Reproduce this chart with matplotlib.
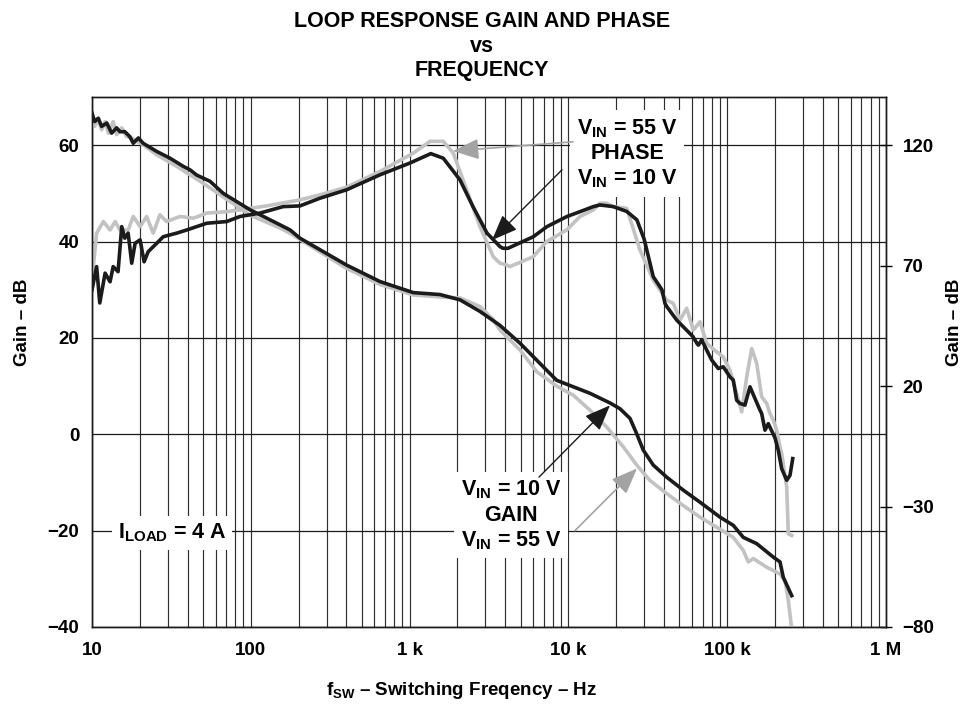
import matplotlib
matplotlib.use('Agg')
import matplotlib.pyplot as plt
from matplotlib.ticker import LogLocator, NullFormatter

plt.rcParams['font.family'] = ['Liberation Sans', 'DejaVu Sans']
plt.rcParams['font.weight'] = 'bold'
plt.rcParams['mathtext.fontset'] = 'custom'
plt.rcParams['mathtext.rm'] = 'Liberation Sans:bold'
plt.rcParams['mathtext.it'] = 'Liberation Sans:bold'
plt.rcParams['mathtext.bf'] = 'Liberation Sans:bold'

# gain, VIN = 10 V (left axis, dB)
gain10_f = [10, 10.4, 10.96, 11.5, 12.4, 13.3, 14.3, 15.0, 16.1, 17.3, 18.2, 19.6, 21.0,
            25.6, 31.0, 37.6, 41.4, 45.6, 55.4, 67.1, 98.8, 146, 177, 204, 402, 651,
            1055, 1554, 2077, 2775, 3709, 4957, 6950, 8440, 13680, 18280, 21130, 24430,
            26930, 29630, 34240, 41590, 52920, 67410, 90100, 109200, 126300, 153400,
            195200, 215100, 225600, 254900]
gain10 = [66.7, 64.9, 65.6, 63.9, 64.6, 62.5, 63.6, 62.8, 62.8, 61.8, 60.4, 61.5, 60.4,
          58.7, 57.3, 55.6, 54.9, 53.8, 52.5, 50.0, 46.6, 43.8, 42.4, 40.7, 35.1, 31.7,
          29.4, 29.0, 27.9, 25.5, 22.6, 18.9, 14.0, 11.2, 8.5, 6.5, 5.3, 3.3,
          0.1, -3.3, -6.4, -8.9, -11.6, -14.1, -17.2, -18.9, -21.4, -22.7,
          -25.5, -26.5, -29.7, -33.5]

# gain, VIN = 55 V
gain55_f = [10, 10.4, 10.96, 11.5, 12.1, 12.7, 13.6, 14.3, 15.4, 16.5, 17.8, 19.1, 21.0,
            25.6, 34.2, 50.2, 98.8, 153, 177, 402, 651, 1055, 1554, 2077, 2775, 3366,
            3709, 4957, 6314, 8440, 10740, 13680, 17430, 22170, 26930, 32650, 41590,
            52920, 67410, 85900, 109200, 126300, 135800, 146000, 177400, 215100,
            231200, 242600, 254900]
gain55 = [64.6, 63.9, 65.3, 63.2, 64.9, 62.5, 64.9, 62.2, 63.6, 61.8, 61.5, 60.8, 60.1,
          58.0, 55.6, 52.1, 45.5, 42.8, 41.7, 34.4, 31.1, 28.9, 28.5, 28.3, 26.5, 23.8,
          21.6, 17.5, 13.0, 10.0, 8.1, 5.0, 1.5, -2.6, -6.4, -9.6, -12.3,
          -14.8, -17.2, -19.3, -21.4, -24.1, -26.5, -25.8, -27.6, -29.0,
          -30.4, -34.5, -40.4]

# phase, VIN = 10 V (right axis)
phase10_f = [10, 10.7, 11.2, 12.1, 13.0, 13.6, 14.6, 15.4, 16.1, 16.9, 17.8, 18.7, 20.1,
             21.3, 22.6, 25.6, 28.1, 34.2, 39.5, 52.8, 70.5, 85.5, 114, 160, 204, 273,
             402, 651, 1006, 1360, 1630, 2077, 2507, 3073, 3709, 3874, 4166, 6012,
             7333, 9800, 11830, 14350, 15810, 19180, 23300, 27000, 30000, 34240,
             37750, 38860, 40580, 41770, 48100, 50450, 60920, 64540, 65770, 69100,
             79880, 87900, 94500, 104100, 109200, 114800, 120400, 129400, 132700,
             139200, 149700, 160900, 164900, 173000, 181500, 200000, 209800, 220400,
             237000, 248700, 258600]
phase10 = [59.9, 69.6, 54.5, 66.9, 63.3, 69.6, 67.5, 86.2, 81.4, 83.5, 71.0, 79.3, 80.7,
           71.6, 75.8, 79.3, 82.0, 83.5, 84.8, 87.6, 88.3, 90.4, 91.8, 94.5, 94.8, 98.0,
           101.5, 107.7, 112.6, 116.5, 114.6, 105.6, 94.5, 83.5, 77.9, 77.2, 77.2, 82.0,
           86.2, 90.4, 92.4, 94.5, 95.2, 94.5, 92.5, 89.0, 81.0, 65.4,
           61.2, 59.9, 54.3, 52.9, 47.4, 46.0, 40.5, 37.7, 37.0, 39.1,
           30.8, 27.3, 28.0, 23.8, 22.5, 14.1, 12.8, 12.1, 14.8,
           19.7, 14.8, 10.0, 8.6, 1.7, 4.4, -1.5, -6.7, -14.3,
           -19.1, -17.0, -10.1]

# phase, VIN = 55 V
phase55_f = [10, 10.7, 11.8, 13.0, 14.0, 15.0, 16.9, 18.2, 20.1, 22.1, 24.3, 26.8, 29.5,
             35.8, 43.5, 52.8, 70.5, 98.8, 126, 204, 273, 402, 651, 1055, 1345, 1630,
             1885, 2289, 2775, 3366, 3709, 4088, 4288, 6012, 7302, 9756, 11830, 14350,
             15810, 17430, 19180, 23290, 28240, 34240, 41590, 45770, 50450, 55590,
             61190, 67410, 74300, 85900, 94500, 104100, 114800, 123400, 132700,
             142700, 153400, 164900, 177400, 186000, 195200, 205000, 215100, 220400,
             237000, 242600, 254900]
phase55 = [64.0, 83.5, 88.3, 84.8, 88.3, 84.8, 84.8, 90.4, 86.2, 90.4, 83.5, 91.1, 88.3,
           90.4, 89.7, 91.8, 92.4, 93.8, 94.8, 97.3, 99.4, 102.6, 109.1, 116.7, 121.6, 121.6,
           116.7, 101.5, 86.2, 73.7, 71.0, 70.3, 69.6, 73.7, 80.0, 84.8, 90.4, 93.1,
           95.9, 95.9, 94.5, 93.8, 76.5, 64.0, 55.7, 54.3, 47.4, 52.3,
           43.2, 46.7, 37.7, 34.2, 32.1, 26.6, 16.9, 9.3, 23.8,
           35.6, 29.4, 15.5, 12.8, 8.6, 5.8, 1.7, -5.3, -8.0,
           -21.9, -41.3, -42.0]

x_ticks = [10, 100, 1e3, 1e4, 1e5, 1e6]
x_labels = ['10', '100', '1 k', '10 k', '100 k', '1 M']
left_ticks = [-40, -20, 0, 20, 40, 60]
left_labels = ['\u221240', '\u221220', '0', '20', '40', '60']
right_ticks = [-80, -30, 20, 70, 120]
right_labels = ['\u221280', '\u221230', '20', '70', '120']

black = '#1b1b1b'
gray = '#c2c2c2'
arrow_gray = '#a3a3a3'
s = 13.5
ts = 15.5

fig = plt.figure(figsize=(9.7, 7.04), dpi=100)
ax1 = fig.add_axes([0.0948, 0.1094, 0.8186, 0.7528])
ax2 = ax1.twinx()

ax1.set_xscale('log')
ax1.set_xlim(10, 1e6)
ax1.set_ylim(-40, 70)
ax2.set_ylim(-80, 140)

# gray (VIN = 55 V) curves sit under the black ones
ax1.plot(gain55_f, gain55, color=gray, lw=2.6, solid_joinstyle='round', zorder=3)
ax1.plot(phase55_f, phase55, color=gray, lw=2.6, solid_joinstyle='round',
         transform=ax2.transData, zorder=3)
ax2.plot(gain10_f, gain10, color=black, lw=2.6, solid_joinstyle='round',
         transform=ax1.transData, zorder=3)
ax2.plot(phase10_f, phase10, color=black, lw=2.6, solid_joinstyle='round', zorder=3)
ax2.set_ylim(-80, 140)

ax1.set_xticks(x_ticks)
ax1.set_xticklabels(x_labels)
ax1.xaxis.set_minor_locator(LogLocator(base=10, subs=range(2, 10), numticks=50))
ax1.xaxis.set_minor_formatter(NullFormatter())
ax1.set_yticks(left_ticks)
ax1.set_yticklabels(left_labels)
ax2.set_yticks(right_ticks)
ax2.set_yticklabels(right_labels)

ax1.tick_params(axis='x', which='both', length=0, pad=11, labelsize=s)
ax1.tick_params(axis='y', length=0, pad=9, labelsize=s)
ax2.tick_params(axis='y', direction='inout', length=8, width=1, pad=8, labelsize=s)

ax1.grid(True, which='both', axis='x', color='#2e2e2e', lw=0.85)
ax1.grid(True, which='major', axis='y', color='#1b1b1b', lw=0.9)
for a in (ax1, ax2):
    for sp in a.spines.values():
        sp.set_color('#1b1b1b')
        sp.set_linewidth(1.0)

ax1.set_ylabel('Gain \u2013 dB', fontsize=s, fontweight='bold')
ax1.yaxis.set_label_coords(-0.077, 0.575)
ax2.set_ylabel('Gain \u2013 dB', fontsize=s, fontweight='bold')
ax2.yaxis.set_label_coords(1.076, 0.575)
ax1.set_xlabel('f$_{\\rm SW}$ \u2013 Switching Freqency \u2013 Hz', fontsize=s,
               fontweight='bold')
ax1.xaxis.set_label_coords(0.466, -0.1)

fig.text(0.497, 0.984, 'LOOP RESPONSE GAIN AND PHASE\nvs\nFREQUENCY', ha='center',
         va='top', fontsize=ts, fontweight='bold', linespacing=1.22)

box = dict(facecolor='white', edgecolor='none', pad=5)
ax2.text(23400, 116.6, 'V$_{\\rm IN}$ = 55 V\nPHASE\nV$_{\\rm IN}$ = 10 V', ha='center',
         va='center', fontsize=ts, fontweight='bold', linespacing=1.2, bbox=box,
         zorder=5)
ax2.text(4350, -33.6, 'V$_{\\rm IN}$ = 10 V\nGAIN\nV$_{\\rm IN}$ = 55 V', ha='center',
         va='center', fontsize=ts, fontweight='bold', linespacing=1.2, bbox=box,
         zorder=5)
ax2.text(32, -41.0, 'I$_{\\rm LOAD}$ = 4 A', ha='center', va='center', fontsize=ts,
         fontweight='bold', bbox=dict(facecolor='white', edgecolor='none', pad=4),
         zorder=5)

head = '-|>,head_length=0.8,head_width=0.32'
ax2.annotate('', xy=(1875, 117.6), xytext=(10700, 121.4),
             arrowprops=dict(arrowstyle=head, mutation_scale=20, color=arrow_gray, lw=1.2,
                             shrinkA=0, shrinkB=0), zorder=6)
ax2.annotate('', xy=(3304, 80.6), xytext=(9120, 109.8),
             arrowprops=dict(arrowstyle=head, mutation_scale=20, color=black, lw=1.0,
                             shrinkA=0, shrinkB=0), zorder=6)
ax2.annotate('', xy=(18280, 12.0), xytext=(6530, -17.8),
             arrowprops=dict(arrowstyle=head, mutation_scale=20, color=black, lw=1.0,
                             shrinkA=0, shrinkB=0), zorder=6)
ax2.annotate('', xy=(27040, -14.2), xytext=(11000, -40),
             arrowprops=dict(arrowstyle=head, mutation_scale=20, color=arrow_gray, lw=1.2,
                             shrinkA=0, shrinkB=0), zorder=6)

plt.savefig('out.png', dpi=100)
